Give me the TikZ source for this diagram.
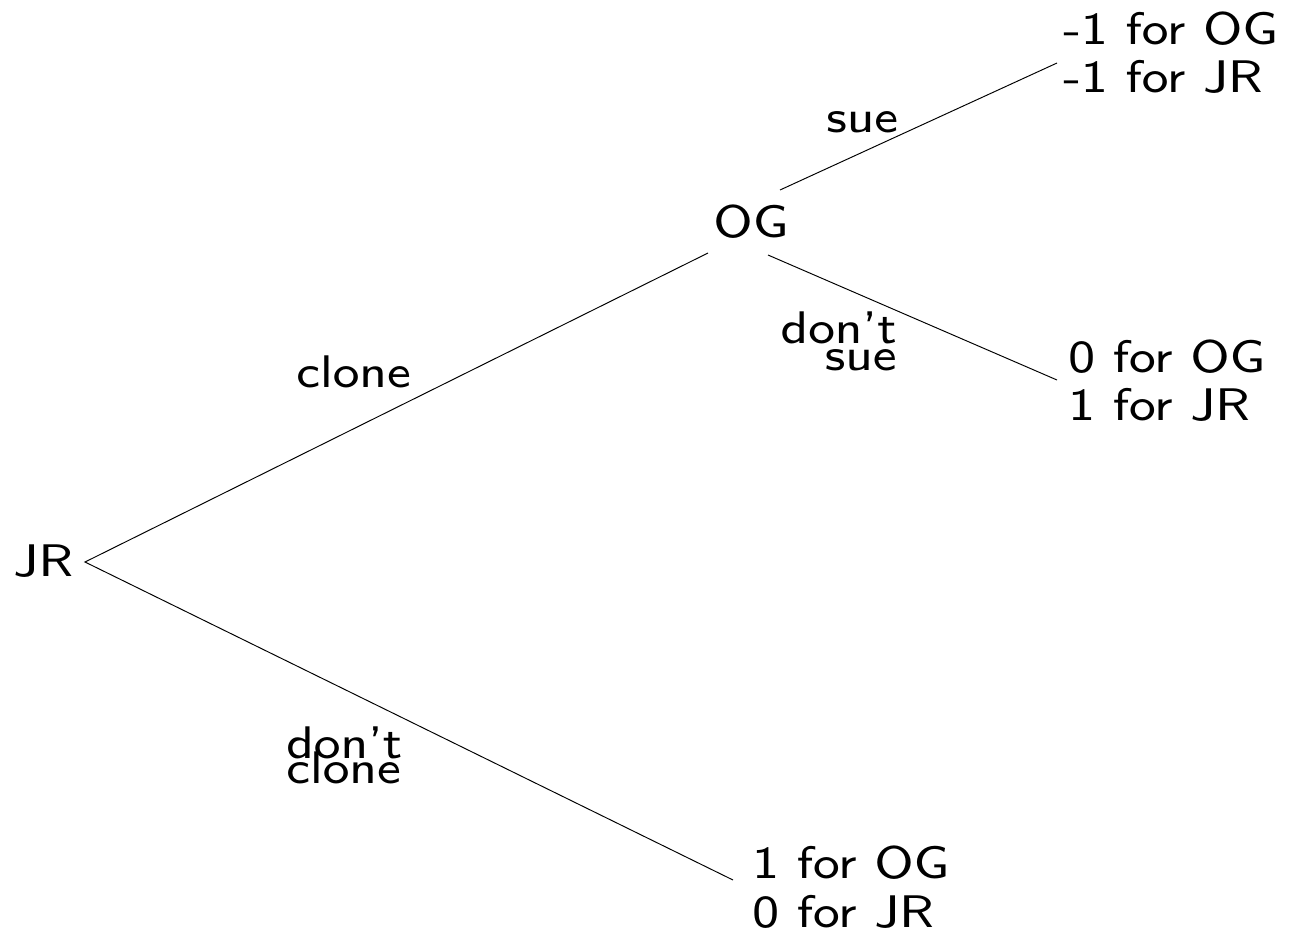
\documentclass[tikz,border=0pt]{standalone}
\font\bigss=cmss8 at 26pt
\newcommand\widetxt[1]{\scalebox{1.1}[1]{#1}}
\begin{document}
\begin{tikzpicture}[x=0.02cm,y=-0.02cm,
  lbl/.style={font=\bigss, inner sep=0pt},
  edge/.style={line width=0.55pt}]
\useasboundingbox (0,0) rectangle (1300,937);
% players
\node[lbl,anchor=base west] (jr) at (13,576) {\widetxt{JR}};
\node[lbl,anchor=base west] (og) at (713,237) {\widetxt{OG}};
% payoffs
\node[lbl,anchor=base west] (p1a) at (1063,44) {\widetxt{-1 for OG}};
\node[lbl,anchor=base west] (p1b) at (1063,92) {\widetxt{-1 for JR}};
\node[lbl,anchor=base west] (p2a) at (1068,372) {\widetxt{0 for OG}};
\node[lbl,anchor=base west] (p2b) at (1068,420) {\widetxt{1 for JR}};
\node[lbl,anchor=base west] (p3a) at (752,878) {\widetxt{1 for OG}};
\node[lbl,anchor=base west] (p3b) at (752,927) {\widetxt{0 for JR}};
% action labels
\node[lbl,anchor=base west] (lsue) at (826,132) {\widetxt{sue}};
\node[lbl,anchor=base west] (lclone) at (296,387) {\widetxt{clone}};
\node[lbl,anchor=base east] (ldsa) at (897,343) {\widetxt{don't}};
\node[lbl,anchor=base east] (ldsb) at (897,370) {\widetxt{sue}};
\node[lbl,anchor=base west] (ldca) at (286,758) {\widetxt{don't}};
\node[lbl,anchor=base west] (ldcb) at (286,783) {\widetxt{clone}};
% connector ends
\coordinate (jrE) at (85,562);
\coordinate (ogSW) at (708,253);
\coordinate (ogNE) at (780,190);
\coordinate (ogSE) at (768,255);
\coordinate (p1W) at (1057,63);
\coordinate (p2W) at (1057,380);
\coordinate (p3W) at (733,880);
\draw[edge] (ogSW) -- (jrE) -- (p3W);
\draw[edge] (ogNE) -- (p1W);
\draw[edge] (ogSE) -- (p2W);
\end{tikzpicture}
\end{document}
